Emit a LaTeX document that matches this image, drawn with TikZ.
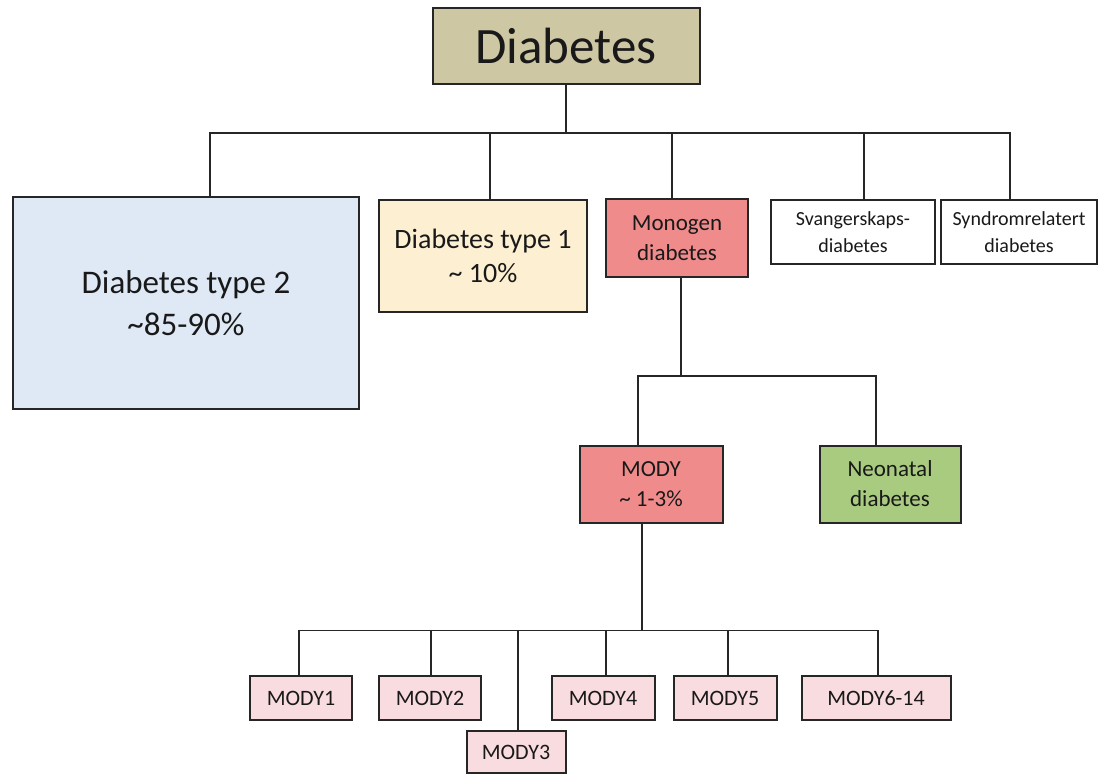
\documentclass[tikz,border=0pt]{standalone}
\usepackage{fontspec}
\setmainfont{Carlito}
\usepackage{tikz}

\definecolor{titlefill}{HTML}{CDC7A4}
\definecolor{typetwofill}{HTML}{DEE9F5}
\definecolor{typeonefill}{HTML}{FDEFD2}
\definecolor{monofill}{HTML}{F08B8B}
\definecolor{neofill}{HTML}{A9CB80}
\definecolor{modyfill}{HTML}{F9DCE0}

\begin{document}
\begin{tikzpicture}[x=1pt,y=-1pt,
			every node/.style={
				draw=black!85,
				line width=2pt,
				align=center,
				inner sep=0pt,
				text=black!90
			},
			box/.style 2 args={minimum width=#1pt,minimum height=#2pt},
			small/.style={box={102}{44},fill=modyfill,font=\fontsize{22}{26}\selectfont},
			link/.style={line width=1.8pt,black!85}]
			
			\useasboundingbox (0,0) rectangle (1099,774);
			
			\node(diab)[box={267}{76},fill=titlefill,font=\fontsize{51}{61}\selectfont] at (566,46){Diabetes};
			
			\node(t2)[box={346}{212},fill=typetwofill,font=\fontsize{33}{42}\selectfont] at (186,303){Diabetes type 2\\\textasciitilde85-90\%};
			
			\node(t1)[box={208}{112},fill=typeonefill,font=\fontsize{28}{34}\selectfont] at (483,256){Diabetes type 1\\\textasciitilde{} 10\%};
			
			\node(mono)[box={142}{78},fill=monofill,font=\fontsize{23}{30}\selectfont] at (677,238){Monogen\\diabetes};
			
			\node(svang)[box={164}{64},fill=white,font=\fontsize{20}{27}\selectfont] at (853,232){Svangerskaps-\\diabetes};
			
			\node(synd)[box={156}{64},fill=white,font=\fontsize{20}{27}\selectfont] at (1019,232){Syndromrelatert\\diabetes};
			
			\node(mody)[box={143}{77},fill=monofill,font=\fontsize{23}{30}\selectfont] at (651,484){MODY\\\textasciitilde{} 1-3\%};
			
			\node(neo)[box={141}{77},fill=neofill,font=\fontsize{23}{30}\selectfont] at (890,484){Neonatal\\diabetes};
			
			\node(m1)[small] at (301,698){MODY1};
			
			\node(m2)[small] at (430,698){MODY2};
			
			\node(m3)[small,box={99}{42}] at (516,752){MODY3};
			
			\node(m4)[small,box={103}{44}] at (603,698){MODY4};
			
			\node(m5)[small,box={103}{44}] at (725,698){MODY5};
			
			\node(m6)[small,box={149}{44}] at (876,698){MODY6-14};
			
			% tree lines
			\coordinate (hub) at ([yshift=-48pt]diab.south);
			
			\coordinate (hubmono) at ([xshift=4pt,yshift=-98pt]mono.south);
			
			\coordinate (hubmody) at ([xshift=-9pt,yshift=-107pt]mody.south);
			
			\draw[link](diab.south)--(hub);
			
			\foreach \n/\dx in {t2/24,t1/7,mono/-5,svang/11,synd/-9}
				\draw[link]([xshift=\dx pt]\n.north)|-(hub);
			
			\draw[link]([xshift=4pt]mono.south)--(hubmono);
			
			\foreach \n/\dx in {mody/-13,neo/-14}
				\draw[link]([xshift=\dx pt]\n.north)|-(hubmono);
			
			\draw[link]([xshift=-9pt]mody.south)--(hubmody);
			
			\foreach \n/\dx in {m1/-2,m2/1,m3/2,m4/3,m5/3,m6/2}
				\draw[link]([xshift=\dx pt]\n.north)|-(hubmody);
			
		\end{tikzpicture}
\end{document}
